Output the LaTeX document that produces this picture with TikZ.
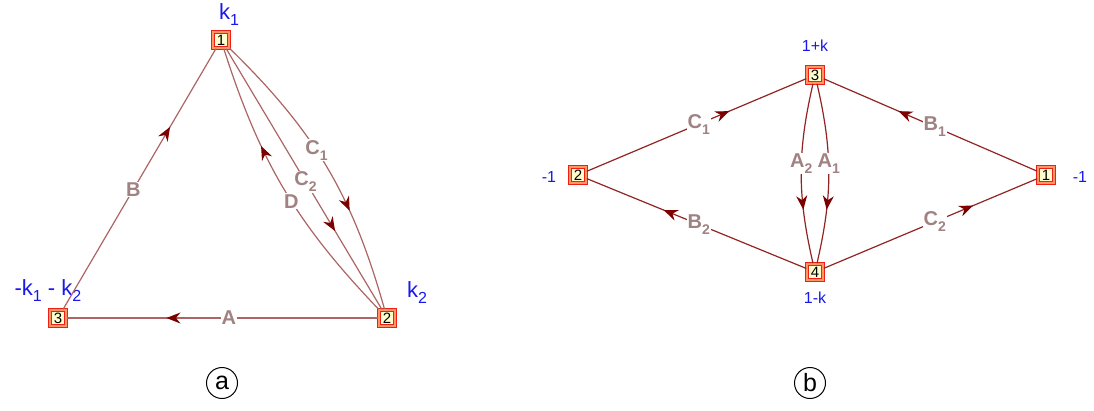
\documentclass[tikz,border=0pt]{standalone}
\usepackage{fontspec}
\setmainfont{Liberation Sans}
\usetikzlibrary{arrows.meta,decorations.markings}
\definecolor{lineL}{RGB}{172,100,100}
\definecolor{lineR}{RGB}{145,35,35}
\definecolor{arr}{RGB}{125,0,0}
\definecolor{lab}{RGB}{160,130,130}
\definecolor{vblue}{RGB}{25,25,235}
\definecolor{boxfill}{RGB}{255,255,205}
\definecolor{boxred}{RGB}{240,30,20}
\definecolor{boxorange}{RGB}{255,150,100}
\newcommand\esub[1]{\raisebox{-6pt}{\fontsize{14}{14}\selectfont #1}}
\newcommand\bsub[1]{\raisebox{-6pt}{\fontsize{16}{16}\selectfont #1}}
\tikzset{
  vert/.style={draw=boxred, double=boxorange, double distance=1.6pt, line width=1.1pt,
    fill=boxfill, minimum size=16.5pt, inner sep=0pt, font=\fontsize{15}{15}\selectfont},
  lbl/.style={fill=white, text=lab, inner sep=1pt, font=\fontsize{20}{20}\selectfont\bfseries},
  bigblue/.style={text=vblue, inner sep=0pt, font=\fontsize{22}{22}\selectfont},
  smallblue/.style={text=vblue, inner sep=0pt, font=\fontsize{16}{16}\selectfont},
  edgeL/.style={draw=lineL, line width=1.2pt},
  edgeR/.style={draw=lineR, line width=1.2pt},
  midarrow/.style={postaction={decorate, decoration={markings,
    mark=at position #1 with {\arrow{Stealth[length=14pt,width=11pt,inset=4.5pt,color=arr]}}}}},
  tag/.style={circle, draw=black, line width=1pt, minimum size=31pt, inner sep=0pt,
    font=\fontsize{25}{25}\selectfont}
}
\begin{document}
\begin{tikzpicture}[x=1pt,y=-1pt]
\useasboundingbox (0,0) rectangle (1094,410);
% ---------- (a) ----------
\node[vert] (a1) at (221,40) {1};
\node[vert] (a2) at (387,318) {2};
\node[vert] (a3) at (58,318) {3};
\node[bigblue] (ka1) at (229,15) {k\bsub{1}};
\node[bigblue] (ka2) at (417,293) {k\bsub{2}};
\node[bigblue] (ka3) at (48,291) {-k\bsub{1} - k\bsub{2}};
\path[edgeL, midarrow=0.68] (a2) -- node[lbl, pos=0.48] {A} (a3);
\path[edgeL, midarrow=0.7] (a3) -- node[lbl, pos=0.46] {B} (a1);
\path[edgeL, midarrow=0.66] (a1) to[bend left=15] node[lbl, pos=0.43] {C\esub{1}} (a2);
\path[edgeL, midarrow=0.7] (a1) -- node[lbl, pos=0.51] {C\esub{2}} (a2);
\path[edgeL, midarrow=0.66] (a2) to[bend left=13] node[lbl, pos=0.45] {D} (a1);
\node[tag] (ta) at (222,383) {a};
% ---------- (b) ----------
\node[vert] (b3) at (815,75) {3};
\node[vert] (b4) at (815,272) {4};
\node[vert] (b2) at (578,175) {2};
\node[vert] (b1) at (1046,175) {1};
\node[smallblue] (kb3) at (815,46) {1+k};
\node[smallblue] (kb4) at (815,298) {1-k};
\node[smallblue] (kb2) at (549,177) {-1};
\node[smallblue] (kb1) at (1080,177) {-1};
\path[edgeR, midarrow=0.65] (b2) -- node[lbl, pos=0.51] {C\esub{1}} (b3);
\path[edgeR, midarrow=0.65] (b1) -- node[lbl, pos=0.48] {B\esub{1}} (b3);
\path[edgeR, midarrow=0.65] (b4) -- node[lbl, pos=0.49] {B\esub{2}} (b2);
\path[edgeR, midarrow=0.7] (b4) -- node[lbl, pos=0.52] {C\esub{2}} (b1);
\path[edgeR, midarrow=0.7] (b3) to[bend right=13] node[lbl, pos=0.44] {A\esub{2}} (b4);
\path[edgeR, midarrow=0.7] (b3) to[bend left=13] node[lbl, pos=0.44] {A\esub{1}} (b4);
\node[tag] (tb) at (810,383) {b};
\end{tikzpicture}
\end{document}
